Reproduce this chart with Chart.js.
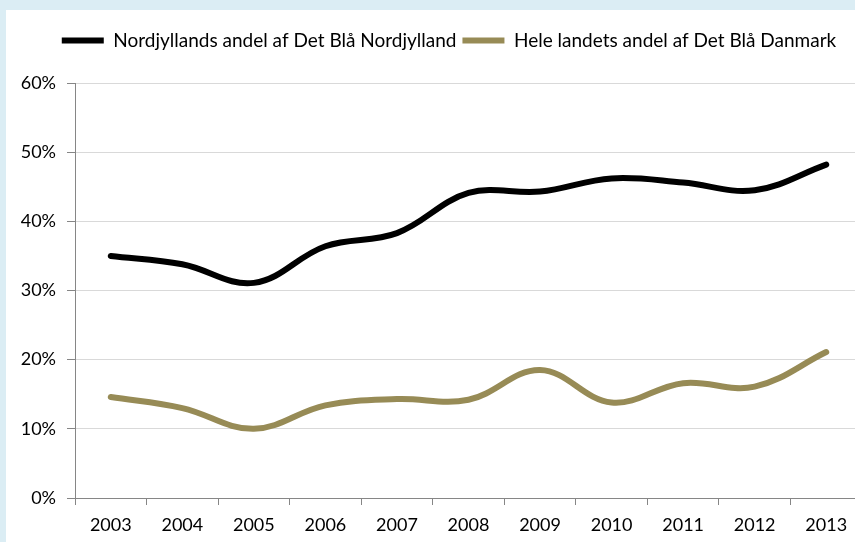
<!DOCTYPE html>
<html>
<head>
<meta charset="utf-8">
<script src="https://cdn.jsdelivr.net/npm/chart.js@4/dist/chart.umd.min.js"></script>
<style>
  html, body { margin: 0; padding: 0; }
  body { width: 855px; height: 542px; overflow: hidden; background: #dbedf4; position: relative; }
  #panel { position: absolute; left: 6px; top: 10px; width: 886px; height: 532px; background: #fff; }
</style>
</head>
<body>
<div id="panel"><canvas id="chLine"></canvas></div>
<script>
// chart data
var years = ['2003', '2004', '2005', '2006', '2007', '2008', '2009', '2010', '2011', '2012', '2013'];
var nordjylland = [35.0, 33.8, 31.1, 36.4, 38.3, 44.1, 44.3, 46.2, 45.6, 44.5, 48.2];
var heleLandet = [14.6, 13.0, 10.0, 13.4, 14.3, 14.2, 18.5, 13.8, 16.6, 16.1, 21.1];
var seriesNames = ['Nordjyllands andel af Det Blå Nordjylland', 'Hele landets andel af Det Blå Danmark'];
var yTicks = [0, 10, 20, 30, 40, 50, 60];

var colors = ['#000000', '#978b56'];
var font = { family: 'Lato', size: 18 };

// fixed legend height so the plot starts where the original does
var legendHeight = {
  id: 'legendHeight',
  beforeInit: function (chart) {
    var fit = chart.legend.fit;
    chart.legend.fit = function () {
      fit.bind(chart.legend)();
      this.height = 58;
    };
  }
};

new Chart(document.getElementById('chLine'), {
  type: 'line',
  data: {
    labels: years,
    datasets: [{
      label: seriesNames[0],
      data: nordjylland,
      borderColor: colors[0],
      backgroundColor: colors[0],
      borderWidth: 6,
      pointRadius: 0,
      tension: 0.38,
      borderCapStyle: 'round'
    }, {
      label: seriesNames[1],
      data: heleLandet,
      borderColor: colors[1],
      backgroundColor: colors[1],
      borderWidth: 6,
      pointRadius: 0,
      tension: 0.38,
      borderCapStyle: 'round'
    }]
  },
  options: {
    responsive: true,
    maintainAspectRatio: false,
    animation: false,
    layout: { padding: { left: 0, right: 0, top: 15, bottom: 0 } },
    plugins: {
      tooltip: { enabled: false },
      legend: {
        position: 'top',
        labels: {
          font: { family: 'Lato', size: 19 },
          color: '#000',
          boxWidth: 42,
          boxHeight: 6,
          padding: 6,
          useBorderRadius: true,
          borderRadius: 3,
          generateLabels: function (chart) {
            return chart.data.datasets.map(function (ds, i) {
              return {
                text: ds.label,
                fillStyle: ds.borderColor,
                strokeStyle: ds.borderColor,
                lineWidth: 0,
                fontColor: '#000',
                datasetIndex: i
              };
            });
          }
        }
      }
    },
    scales: {
      x: {
        offset: true,
        grid: { drawOnChartArea: false, offset: true, tickLength: 7, tickColor: '#868686' },
        border: { color: '#868686' },
        ticks: { font: font, color: '#000', padding: 9, maxRotation: 0 },
        afterFit: function (scale) { scale.height = 44; }
      },
      y: {
        min: 0,
        max: 60,
        afterBuildTicks: function (scale) {
          scale.ticks = yTicks.map(function (v) { return { value: v }; });
        },
        grid: { color: '#d9d9d9', tickLength: 8, tickColor: '#868686' },
        border: { color: '#868686' },
        ticks: {
          font: font,
          color: '#000',
          padding: 11,
          callback: function (v) { return v + '%'; }
        },
        afterFit: function (scale) { scale.width = 69; }
      },
      // empty right-hand box: lets the plot run past the visible edge while the legend stays centred
      yRight: {
        position: 'right',
        min: 0,
        max: 60,
        grid: { display: false },
        border: { display: false },
        ticks: { display: false },
        afterFit: function (scale) { scale.width = 30; }
      }
    }
  },
  plugins: [legendHeight]
});
</script>
</body>
</html>
